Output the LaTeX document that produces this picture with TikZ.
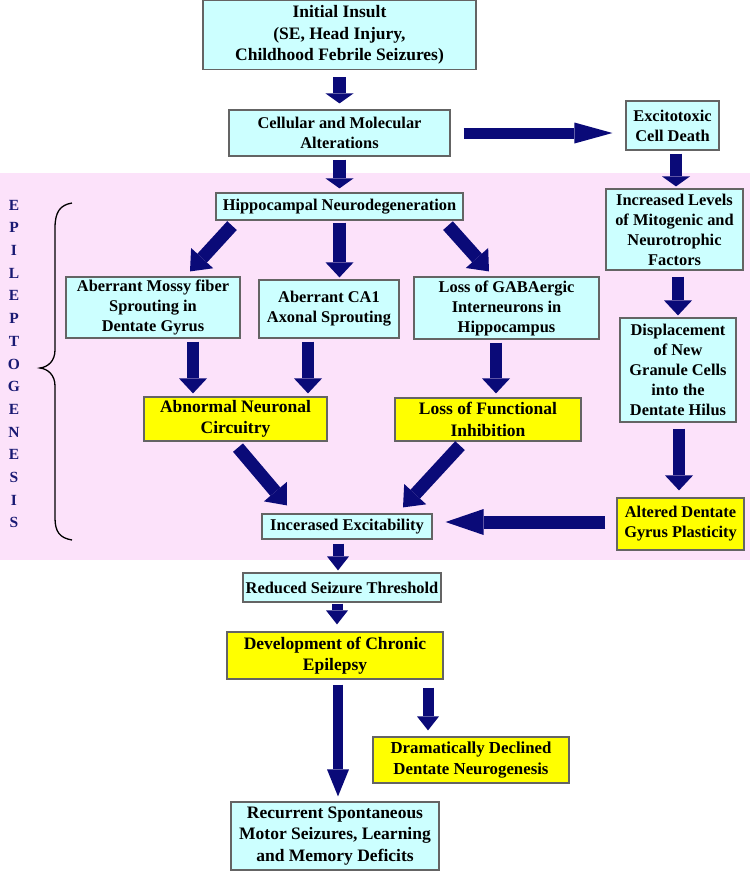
\documentclass[tikz,border=0pt]{standalone}
\usepackage{fontspec}
\setmainfont{Liberation Serif}
\usetikzlibrary{arrows.meta}
\definecolor{navyarrow}{RGB}{10,10,120}
\definecolor{cyanfill}{RGB}{204,255,255}
\definecolor{yellowfill}{RGB}{255,255,0}
\definecolor{pinkbg}{RGB}{252,226,250}
\definecolor{boxline}{RGB}{100,100,100}
\definecolor{lettercol}{RGB}{25,25,115}
\begin{document}
\begin{tikzpicture}[x=1pt,y=-1pt,
  fnorm/.style={font=\bfseries\fontsize{16.4}{20}\selectfont},
  fbig/.style={font=\bfseries\fontsize{17.5}{21.5}\selectfont},
  cbox/.style={draw=boxline, line width=1.2pt, fill=cyanfill, inner sep=0pt, align=center, fnorm},
  ybox/.style={cbox, fill=yellowfill, fbig},
  fat/.style={draw=navyarrow, line width=12.5pt, -{Triangle[length=15pt,width=28pt,line width=0pt]}},
  fatshort/.style={draw=navyarrow, line width=12.5pt, -{Triangle[length=10pt,width=28pt,line width=0pt]}},
  fatdiag/.style={draw=navyarrow, line width=13pt, -{Triangle[length=18pt,width=30pt,line width=0pt]}},
  fathor/.style={draw=navyarrow, line width=11pt, -{Triangle[length=38pt,width=21pt,line width=0pt]}},
  fathorb/.style={draw=navyarrow, line width=13pt, -{Triangle[length=38pt,width=26pt,line width=0pt]}},
  fatlong/.style={draw=navyarrow, line width=10.5pt, -{Triangle[length=27pt,width=22pt,line width=0pt]}},
  fatsmall/.style={draw=navyarrow, line width=11pt, -{Triangle[length=14pt,width=22pt,line width=0pt]}}
]
\useasboundingbox (0,0) rectangle (750,871);
\fill[white] (0,0) rectangle (750,871);
\fill[pinkbg] (0,173) rectangle (750,560);

% vertical label and brace
\node[font=\bfseries\fontsize{15.5}{22.7}\selectfont, text=lettercol, align=center, inner sep=0pt] (epi) at (14,364)
  {E\\P\\I\\L\\E\\P\\T\\O\\G\\E\\N\\E\\S\\I\\S};
\draw[line width=1.3pt, black] (72,203) .. controls (60,205) and (55,212) .. (55,228) -- (55,350)
  .. controls (55,361) and (48,367) .. (40,368) .. controls (48,369) and (55,375) .. (55,386)
  -- (55,518) .. controls (55,532) and (60,538) .. (72,540);

% boxes
\node[cbox, font=\bfseries\fontsize{17.5}{21.7}\selectfont, minimum width=273pt, minimum height=69pt] (init) at (339.5,35)
  {Initial Insult\\(SE, Head Injury,\\Childhood Febrile Seizures)};
\node[cbox, minimum width=221pt, minimum height=46pt] (cell) at (339.5,133) {Cellular and Molecular\\Alterations};
\node[cbox, minimum width=93pt, minimum height=49pt] (exc) at (672.5,125.5) {Excitotoxic\\Cell Death};
\node[cbox, minimum width=247pt, minimum height=27pt] (hippo) at (339.5,206.5) {Hippocampal Neurodegeneration};
\node[cbox, minimum width=137pt, minimum height=81pt] (incr) at (674.5,229.5)
  {Increased Levels\\of Mitogenic and\\Neurotrophic\\Factors};
\node[cbox, minimum width=174pt, minimum height=61pt] (mossy) at (153,307.5)
  {Aberrant Mossy fiber\\Sprouting in\\Dentate Gyrus};
\node[cbox, minimum width=140pt, minimum height=58pt] (ca1) at (329,309) {Aberrant CA1\\Axonal Sprouting};
\node[cbox, minimum width=185pt, minimum height=62pt] (gaba) at (506.5,308)
  {Loss of GABAergic\\Interneurons in\\Hippocampus};
\node[cbox, minimum width=116pt, minimum height=104pt] (disp) at (678,370)
  {Displacement\\of New\\Granule Cells\\into the\\Dentate Hilus};
\node[ybox, minimum width=183pt, minimum height=44pt] (abn) at (235.5,419) {Abnormal Neuronal\\Circuitry};
\node[ybox, minimum width=186pt, minimum height=43pt] (lossf) at (488,419.5) {Loss of Functional\\Inhibition};
\node[ybox, fnorm, minimum width=127pt, minimum height=52pt] (alt) at (680.5,524) {Altered Dentate\\Gyrus Plasticity};
\node[cbox, minimum width=170pt, minimum height=25pt] (exci) at (347,526.5) {Incerased Excitability};
\node[cbox, minimum width=198pt, minimum height=29pt] (red) at (342,587.5) {Reduced Seizure Threshold};
\node[ybox, minimum width=216pt, minimum height=47pt] (dev) at (335,655.5) {Development of Chronic\\Epilepsy};
\node[ybox, font=\bfseries\fontsize{16.8}{21}\selectfont, minimum width=196pt, minimum height=46pt] (dram) at (471,760)
  {Dramatically Declined\\Dentate Neurogenesis};
\node[cbox, fbig, minimum width=208pt, minimum height=68pt] (rec) at (335,836)
  {Recurrent Spontaneous\\Motor Seizures, Learning\\and Memory Deficits};

% arrows
\draw[fatshort] ([yshift=-7pt]init.south) -- ([yshift=6pt]cell.north);
\draw[fatshort] ([yshift=-3pt]cell.south) -- ([yshift=4pt]hippo.north);
\draw[fathor] ([xshift=13pt]cell.east) -- ([xshift=-13pt,yshift=-7.5pt]exc.west);
\draw[fatshort] ([xshift=3.5pt,yshift=-3pt]exc.south) -- ([xshift=1.5pt,yshift=2pt]incr.north);
\draw[fatdiag] ([xshift=-107.5pt,yshift=-5pt]hippo.south) -- ([xshift=37pt,yshift=5pt]mossy.north);
\draw[fat] ([yshift=-2pt]hippo.south) -- ([xshift=10.5pt,yshift=2pt]ca1.north);
\draw[fatdiag] ([xshift=108.5pt,yshift=-5pt]hippo.south) -- ([xshift=-17.5pt,yshift=5pt]gaba.north);
\draw[fat] ([xshift=3.5pt,yshift=-6pt]incr.south) -- ([yshift=2pt]disp.north);
\draw[fat] ([xshift=40pt,yshift=-3pt]mossy.south) -- ([xshift=-42.5pt,yshift=3pt]abn.north);
\draw[fat] ([xshift=-21pt,yshift=-3pt]ca1.south) -- ([xshift=72.5pt,yshift=3pt]abn.north);
\draw[fat] ([xshift=-10.5pt,yshift=-3pt]gaba.south) -- ([xshift=8pt,yshift=4pt]lossf.north);
\draw[fat] ([xshift=1pt,yshift=-6pt]disp.south) -- ([xshift=-1.5pt,yshift=7pt]alt.north);
\draw[fatdiag] ([xshift=2.5pt,yshift=-6pt]abn.south) -- ([xshift=-60pt,yshift=8pt]exci.north);
\draw[fatdiag] ([xshift=-28pt,yshift=-4pt]lossf.south) -- ([xshift=56pt,yshift=6pt]exci.north);
\draw[fathorb] ([xshift=-11pt,yshift=2pt]alt.west) -- ([xshift=13pt,yshift=4.5pt]exci.east);
\draw[fatsmall] ([xshift=-9pt,yshift=-4pt]exci.south) -- ([xshift=-4pt,yshift=2pt]red.north);
\draw[fatsmall] ([xshift=-5pt,yshift=-1pt]red.south) -- ([xshift=2pt,yshift=7pt]dev.north);
\draw[fatlong] ([xshift=3pt,yshift=-5pt]dev.south) -- ([xshift=3pt,yshift=5pt]rec.north);
\draw[fatsmall] ([xshift=93pt,yshift=-8pt]dev.south) -- ([xshift=-43pt,yshift=6pt]dram.north);
\end{tikzpicture}
\end{document}
